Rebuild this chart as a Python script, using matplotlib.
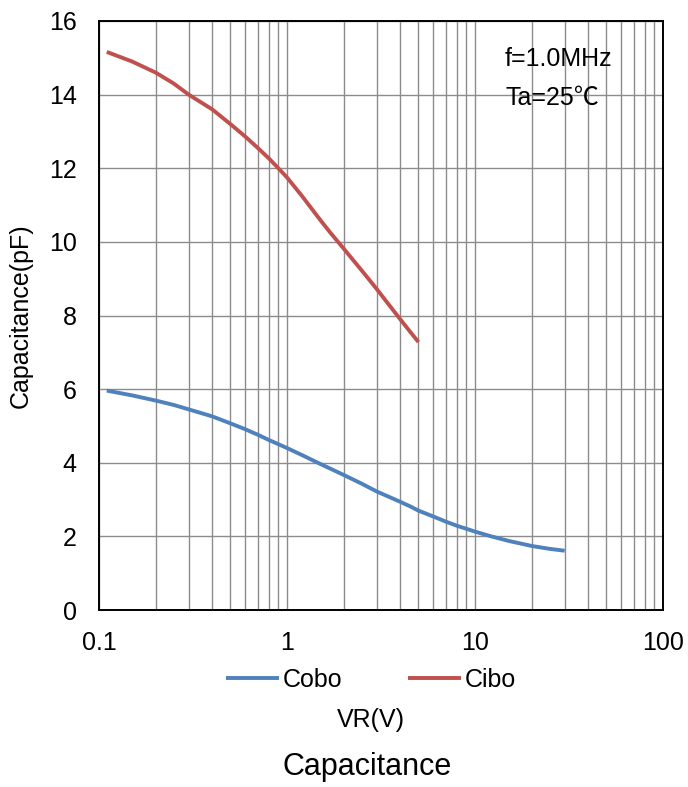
import matplotlib
matplotlib.use("Agg")
import matplotlib.pyplot as plt
from matplotlib.ticker import LogLocator, FixedLocator, NullFormatter

plt.rcParams['font.family'] = ['Liberation Sans', 'DejaVu Sans']

# Cobo (output capacitance)
vr_cobo = [0.11, 0.15, 0.2, 0.25, 0.3, 0.4, 0.5, 0.6, 0.7, 0.8, 1.0, 1.2, 1.5, 1.7, 2.0,
           2.5, 3.0, 3.5, 4.0, 4.5, 5.0, 6.0, 7.0, 8.0, 10.0, 12.0, 15.0, 20.0, 25.0, 30.0]
c_cobo = [5.96, 5.83, 5.69, 5.57, 5.45, 5.26, 5.07, 4.91, 4.76, 4.62, 4.40, 4.21, 3.97, 3.84, 3.67,
          3.43, 3.22, 3.07, 2.94, 2.82, 2.70, 2.54, 2.40, 2.29, 2.13, 2.01, 1.88, 1.74, 1.66, 1.61]

# Cibo (input capacitance)
vr_cibo = [0.11, 0.15, 0.2, 0.25, 0.3, 0.4, 0.5, 0.6, 0.7, 0.8, 0.9, 1.0, 1.2, 1.5, 1.7,
           2.0, 2.5, 3.0, 3.5, 4.0, 4.5, 5.0]
c_cibo = [15.16, 14.9, 14.6, 14.3, 14.0, 13.6, 13.2, 12.86, 12.55, 12.27, 12.0, 11.75, 11.25, 10.6, 10.25,
          9.82, 9.22, 8.72, 8.28, 7.9, 7.57, 7.28]

x_ticks = [0.1, 1, 10, 100]
x_tick_labels = ["0.1", "1", "10", "100"]
y_ticks = [0, 2, 4, 6, 8, 10, 12, 14, 16]

FS = 18

fig = plt.figure(figsize=(6.88, 7.87), dpi=100)
ax = fig.add_axes([99 / 688, 1 - 610 / 787, (663 - 99) / 688, (610 - 21) / 787])

ax.set_xscale("log")
ax.set_xlim(0.1, 100)
ax.set_ylim(0, 16)

ax.plot(vr_cobo, c_cobo, color="#4F81BD", lw=2.8, label="Cobo", solid_capstyle="butt")
ax.plot(vr_cibo, c_cibo, color="#C0504D", lw=2.8, label="Cibo", solid_capstyle="butt")

ax.xaxis.set_major_locator(FixedLocator(x_ticks))
ax.set_xticklabels(x_tick_labels)
ax.xaxis.set_minor_locator(LogLocator(base=10, subs=range(2, 10)))
ax.xaxis.set_minor_formatter(NullFormatter())
ax.set_yticks(y_ticks)

ax.grid(which="both", axis="x", color="#8c8c8c", lw=1.0)
ax.grid(which="major", axis="y", color="#8c8c8c", lw=1.0)
ax.set_axisbelow(True)
for s in ax.spines.values():
    s.set_linewidth(1.4)
    s.set_color("black")

ax.tick_params(which="both", length=0, labelsize=FS, colors="black")
ax.tick_params(axis="x", pad=15)
ax.tick_params(axis="y", pad=16)

ax.set_ylabel("Capacitance(pF)", fontsize=FS)
ax.yaxis.set_label_coords(-0.117, 0.5)

ax.text(0.72, 0.935, "f=1.0MHz", transform=ax.transAxes, fontsize=FS, va="center", ha="left")
ax.text(0.72, 0.870, "Ta=25\u2103", transform=ax.transAxes, fontsize=FS, va="center", ha="left",
        family=['Liberation Sans', 'Noto Sans CJK JP'])

leg = fig.legend(*ax.get_legend_handles_labels(), loc="center", bbox_to_anchor=(371 / 688, 1 - 680 / 787),
                 ncol=2, frameon=False, fontsize=FS, handlelength=2.15, handletextpad=0.15,
                 columnspacing=2.6, borderaxespad=0)

fig.text(371 / 688, 1 - 720 / 787, "VR(V)", ha="center", va="center", fontsize=FS)
fig.text(367 / 688, 1 - 767 / 787, "Capacitance", ha="center", va="center", fontsize=22)

fig.savefig("out.png", dpi=100)
